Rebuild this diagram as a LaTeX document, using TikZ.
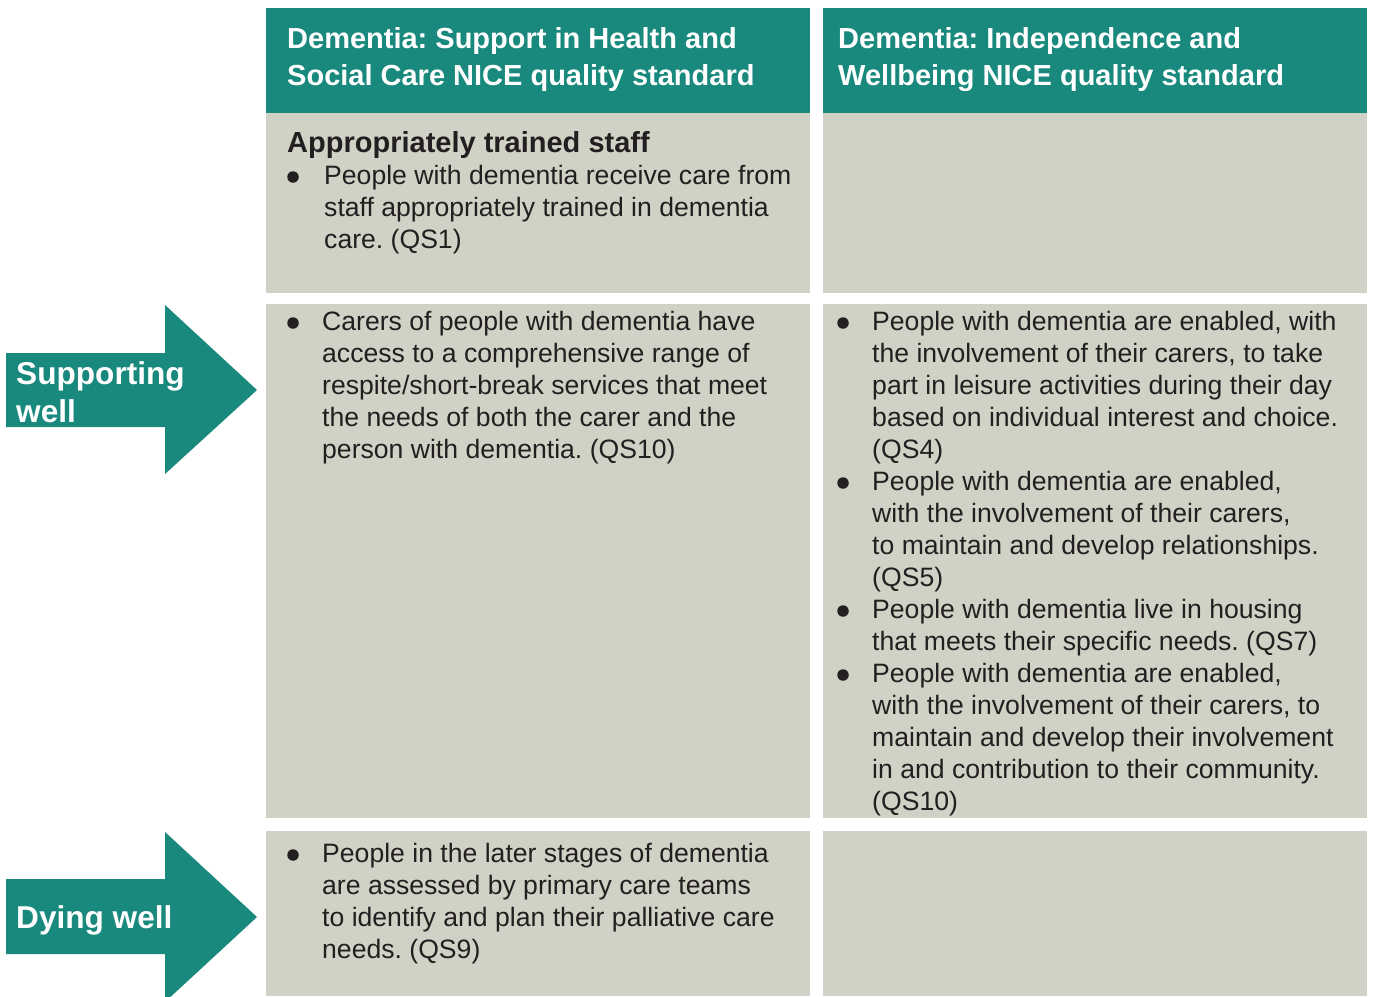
\documentclass[tikz,border=0pt]{standalone}
\usepackage{fontspec}
\setmainfont{Liberation Sans}
\frenchspacing
\definecolor{tealc}{RGB}{24,137,124}
\definecolor{cellgray}{RGB}{208,210,198}
\definecolor{ink}{RGB}{35,31,32}
\begin{document}
\begin{tikzpicture}[x=1pt,y=-1pt,
  hdr/.style={anchor=base west,inner sep=0pt,align=left,text=white,font=\fontsize{29}{37}\selectfont\bfseries\frenchspacing},
  body/.style={anchor=base west,inner sep=0pt,align=left,text=ink,font=\fontsize{26.6}{32}\selectfont\frenchspacing},
  ttl/.style={anchor=base west,inner sep=0pt,text=ink,font=\fontsize{29}{32}\selectfont\bfseries},
  arrlbl/.style={anchor=base west,inner sep=0pt,align=left,text=white,font=\fontsize{31.6}{38}\selectfont\bfseries},
  dot/.style={circle,fill=ink,inner sep=0pt,minimum size=11.5pt}]
\useasboundingbox (0,0) rectangle (1373,996);
\clip (0,0) rectangle (1373,996);
% header cells
\fill[tealc] (266,8) rectangle (810,113);
\fill[tealc] (823,8) rectangle (1367,113);
% gray cells
\fill[cellgray] (266,113) rectangle (810,293);
\fill[cellgray] (823,113) rectangle (1367,293);
\fill[cellgray] (266,304) rectangle (810,818);
\fill[cellgray] (823,304) rectangle (1367,818);
\fill[cellgray] (266,831) rectangle (810,996);
\fill[cellgray] (823,831) rectangle (1367,996);
% arrows
\fill[tealc] (6,353) -- (165,353) -- (165,305) -- (257,390) -- (165,474) -- (165,427) -- (6,427) -- cycle;
\fill[tealc] (6,879) -- (165,879) -- (165,832) -- (257,917) -- (165,1002) -- (165,954) -- (6,954) -- cycle;
\node[arrlbl] (supp) at (16,422) {Supporting\\well};
\node[arrlbl] (dying) at (16,928) {Dying well};
% headers
\node[hdr] (h1) at (287,85) {Dementia: Support in Health and\\Social Care NICE quality standard};
\node[hdr] (h2) at (838,85) {Dementia: Independence and\\Wellbeing NICE quality standard};
% row 1
\node[ttl] (t1) at (287,152) {Appropriately trained staff};
\node[dot] (b1) at (293,177) {};
\node[body] (r1) at (324,248) {People with dementia receive care from\\staff appropriately trained in dementia\\care. (QS1)};
% row 2 col 1
\node[dot] (b2) at (293,323) {};
\node[body] (r2) at (322,458) {Carers of people with dementia have\\access to a comprehensive range of\\respite/short-break services that meet\\the needs of both the carer and the\\person with dementia. (QS10)};
% row 2 col 2
\node[dot] (b3) at (843,323) {};
\node[body] (c1) at (872,458) {People with dementia are enabled, with\\the involvement of their carers, to take\\part in leisure activities during their day\\based on individual interest and choice.\\(QS4)};
\node[dot] (b4) at (843,483) {};
\node[body] (c2) at (872,586) {People with dementia are enabled,\\with the involvement of their carers,\\to maintain and develop relationships.\\(QS5)};
\node[dot] (b5) at (843,611) {};
\node[body] (c3) at (872,650) {People with dementia live in housing\\that meets their specific needs. (QS7)};
\node[dot] (b6) at (843,675) {};
\node[body] (c4) at (872,810) {People with dementia are enabled,\\with the involvement of their carers, to\\maintain and develop their involvement\\in and contribution to their community.\\(QS10)};
% row 3
\node[dot] (b7) at (293,855) {};
\node[body] (r3) at (322,958) {People in the later stages of dementia\\are assessed by primary care teams\\to identify and plan their palliative care\\needs. (QS9)};
\end{tikzpicture}
\end{document}
